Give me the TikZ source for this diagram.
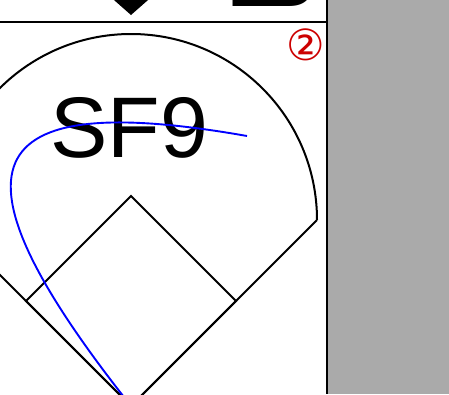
\documentclass[tikz,border=0pt]{standalone}
\usepackage{fontspec}
\setmainfont{Liberation Sans}
\newfontfamily\symfont{DejaVu Sans}
\definecolor{panelgray}{RGB}{170,170,170}
\definecolor{markred}{RGB}{204,0,0}
\definecolor{hitblue}{RGB}{0,0,255}
\begin{document}
\begin{tikzpicture}[x=1pt,y=1pt,
  fieldline/.style={draw=black,line width=2pt,line join=miter},
  hitline/.style={draw=hitblue,line width=1.9pt},
  bigtext/.style={font=\fontsize{86}{86}\selectfont,inner sep=0pt,anchor=base},
  marktext/.style={font=\symfont\fontsize{43}{43}\selectfont,text=markred,inner sep=0pt}]
\useasboundingbox (0,0) rectangle (449,-394);
\clip (0,0) rectangle (449,-394);
% right gray panel and frame
\fill[panelgray] (327,0) rectangle (449,-394);
\draw[line width=2pt] (326.5,0) -- (326.5,-394);
\draw[line width=2pt] (0,-22) -- (327,-22);
% position marker at top
\fill[black] (111.7,2) -- (150.3,2) -- (131,-15) -- cycle;
\node[bigtext,anchor=base west] (pos) at (226,-6) {1\kern-0.18em B};
% field
\coordinate (home) at (131,-406);
\coordinate (first) at (236,-301);
\coordinate (second) at (131,-196);
\coordinate (third) at (26,-301);
\coordinate (rfoul) at (317,-220);
\coordinate (lfoul) at (-55,-220);
\draw[fieldline] (lfoul) -- (home) -- (rfoul);
\draw[fieldline] (lfoul) arc[start angle=180,end angle=0,radius=186];
\draw[fieldline] (home) -- (first) -- (second) -- (third) -- cycle;
% labels
\node[bigtext] (play) at (129,-157) {SF9};
\node[marktext] (num) at (306,-45) {②};
% hit trajectory
\coordinate (land) at (247,-136);
\draw[hitline] (home) .. controls (-60,-165) and (-25,-88) .. (land);
\end{tikzpicture}
\end{document}
